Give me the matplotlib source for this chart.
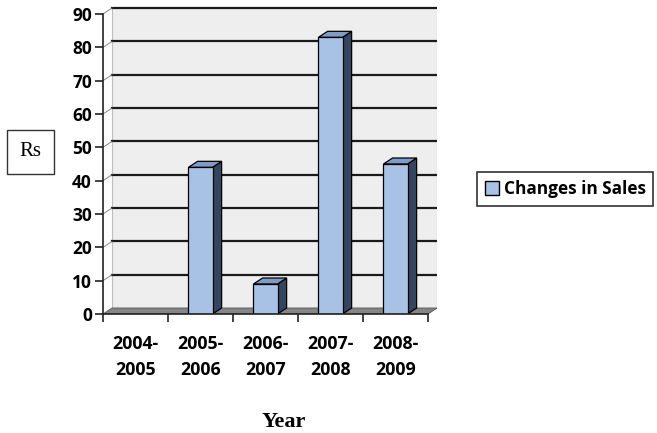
import matplotlib

matplotlib.use("Agg")
import matplotlib.pyplot as plt  # noqa: E402
from matplotlib.patches import Polygon, Patch  # noqa: E402

years = ["2004-\n2005", "2005-\n2006", "2006-\n2007", "2007-\n2008", "2008-\n2009"]
changes_in_sales = [0, 44, 9, 83, 45]
y_ticks = [0, 10, 20, 30, 40, 50, 60, 70, 80, 90]

FRONT = "#a8c2e6"
TOP = "#7f9cc6"
SIDE = "#34465f"
WALL = "#eeeeee"
FLOOR = "#858585"
TICK_FONT = "Open Sans"

# depth offsets of the pseudo-3D box (category units, value units)
DX, DY = 0.14, 1.8
BAR_W = 0.37

W, H = 657, 433
fig = plt.figure(figsize=(W / 100, H / 100), dpi=100)
fig.patch.set_facecolor("white")

left_px, right_px, bottom_px, top_px = 103, 437, 314, 5
ax = fig.add_axes([left_px / W, 1 - bottom_px / H, (right_px - left_px) / W, (bottom_px - top_px) / H])
n = len(years)
ax.set_xlim(-0.5, -0.5 + (right_px - left_px) / 65)
ax.set_ylim(0, (bottom_px - top_px) / (300 / 90))
ax.patch.set_visible(False)

ymax = y_ticks[-1]
x0, x1 = -0.5, n - 0.5

# back wall and floor
ax.add_patch(Polygon([(x0 + DX, DY), (x1 + DX, DY), (x1 + DX, ymax + DY), (x0 + DX, ymax + DY)],
                     closed=True, facecolor=WALL, edgecolor="#bdbdbd", lw=0.8, zorder=0))
ax.add_patch(Polygon([(x0, 0), (x1, 0), (x1 + DX, DY), (x0 + DX, DY)],
                     closed=True, facecolor=FLOOR, edgecolor="#555555", lw=0.6, zorder=1))

# gridlines on the back wall
for v in y_ticks[1:]:
    ax.plot([x0 + DX, x1 + DX], [v + DY, v + DY], color="#1a1a1a", lw=1.6, zorder=1)
    ax.plot([x0, x0 + DX], [v, v + DY], color="#777777", lw=0.6, zorder=1)

# 3-D looking columns
for i, v in enumerate(changes_in_sales):
    if v <= 0:
        continue
    xl, xr = i - BAR_W / 2, i + BAR_W / 2
    ax.add_patch(Polygon([(xr, 0), (xr + DX, DY), (xr + DX, v + DY), (xr, v)],
                         closed=True, facecolor=SIDE, edgecolor="black", lw=0.9, zorder=3))
    ax.add_patch(Polygon([(xl, v), (xr, v), (xr + DX, v + DY), (xl + DX, v + DY)],
                         closed=True, facecolor=TOP, edgecolor="black", lw=0.9, zorder=3))
    ax.add_patch(Polygon([(xl, 0), (xr, 0), (xr, v), (xl, v)],
                         closed=True, facecolor=FRONT, edgecolor="black", lw=0.9, zorder=4))

for s in ("top", "right"):
    ax.spines[s].set_visible(False)
ax.spines["left"].set_bounds(0, ymax)
ax.spines["bottom"].set_bounds(x0, x1)
for s in ("left", "bottom"):
    ax.spines[s].set_color("#222222")
    ax.spines[s].set_linewidth(1.2)
    ax.spines[s].set_zorder(5)

ax.set_yticks(y_ticks)
ax.set_yticklabels([str(t) for t in y_ticks], fontsize=12.5, fontweight="bold", family=TICK_FONT)
ax.set_xticks([i - 0.5 for i in range(n + 1)])
ax.set_xticklabels([])
ax.set_xticks(range(n), minor=True)
ax.set_xticklabels(years, minor=True, fontsize=12.8, fontweight="bold", family=TICK_FONT, linespacing=1.6)
ax.tick_params(axis="both", which="major", direction="out", length=6, width=1.2, color="#222222")
ax.tick_params(axis="y", pad=2)
ax.tick_params(axis="x", which="minor", length=0, pad=15)

fig.text(30 / W, 1 - 152 / H, "Rs", ha="center", va="center", fontsize=15, family="Liberation Serif",
         bbox=dict(boxstyle="square,pad=0.6", facecolor="white", edgecolor="#333333", lw=1.0))
fig.text(284 / W, 1 - 422 / H, "Year", ha="center", va="center", fontsize=16, fontweight="bold",
         family="Liberation Serif")

handle = Patch(facecolor=FRONT, edgecolor="black", lw=1.0)
leg = fig.legend([handle], ["Changes in Sales"], loc="center left", bbox_to_anchor=(477 / W, 1 - 189 / H),
                 prop=dict(family=TICK_FONT, weight="bold", size=12.4), frameon=True, fancybox=False,
                 handlelength=0.8, handleheight=0.8, handletextpad=0.3, borderpad=0.45,
                 borderaxespad=0.0)
leg.get_frame().set_edgecolor("black")
leg.get_frame().set_linewidth(1.2)

fig.savefig("out.png", dpi=100)
